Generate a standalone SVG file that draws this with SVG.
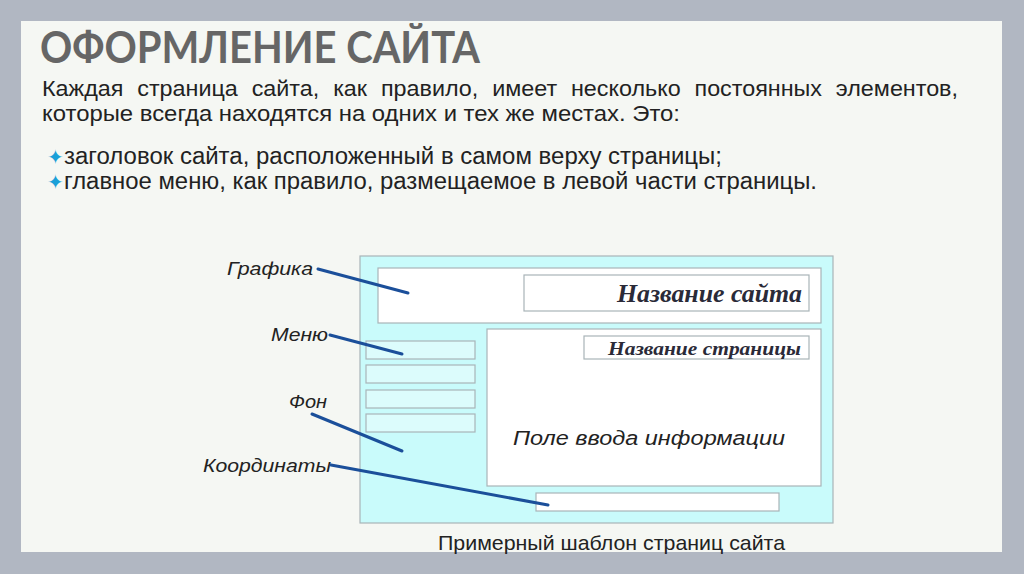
<svg xmlns="http://www.w3.org/2000/svg" width="1024" height="574" viewBox="0 0 1024 574">
<style>
.lbl{font-family:"Liberation Sans",Arial,sans-serif;font-style:italic;font-size:19px;fill:#222}
.box{stroke:#a9b4b8;stroke-width:1.2}
.menu{fill:#dcfcfc;stroke:#a9b4b8;stroke-width:1.2}
.ser{font-family:"Liberation Serif","Times New Roman",serif;font-style:italic;font-weight:bold;fill:#2a2a38}
.con line{stroke:#1b4f9a;stroke-width:3;stroke-linecap:round}
.body{font-family:"Liberation Sans",Arial,sans-serif;font-size:22px;fill:#222}
.bul{font-family:"Liberation Sans",Arial,sans-serif;font-size:23px;fill:#222}
</style>
<rect width="1024" height="574" fill="#b1b7c2"/>
<rect x="21" y="21" width="981" height="531" fill="#f5f7f3"/>
<text x="40" y="63" font-family="Lato,DejaVu Sans,sans-serif" font-weight="bold" font-size="43" fill="#666" textLength="440" lengthAdjust="spacingAndGlyphs">ОФОРМЛЕНИЕ САЙТА</text>
<text class="body" x="42" y="96" word-spacing="7" textLength="916" lengthAdjust="spacingAndGlyphs">Каждая страница сайта, как правило, имеет несколько постоянных элементов,</text>
<text class="body" x="42" y="121" textLength="638" lengthAdjust="spacingAndGlyphs">которые всегда находятся на одних и тех же местах. Это:</text>
<g class="bul">
<text x="47" y="164"><tspan fill="#1aa0d8" font-size="20">✦</tspan><tspan textLength="658" lengthAdjust="spacingAndGlyphs">заголовок сайта, расположенный в самом верху страницы;</tspan></text>
<text x="47" y="189"><tspan fill="#1aa0d8" font-size="20">✦</tspan><tspan textLength="753" lengthAdjust="spacingAndGlyphs">главное меню, как правило, размещаемое в левой части страницы.</tspan></text>
</g>
<g id="page">
<rect x="360" y="256" width="473" height="267" fill="#c9fbfb" class="box"/>
</g>
<g id="header">
<rect x="378" y="268" width="443" height="55" fill="#fff" class="box"/>
</g>
<g id="sitename">
<rect x="524" y="275" width="285" height="36" fill="#fff" class="box"/>
<text class="ser" x="617" y="302" font-size="25" textLength="185" lengthAdjust="spacingAndGlyphs">Название сайта</text>
</g>
<g id="content">
<rect x="487" y="329" width="334" height="157" fill="#fff" class="box"/>
<text x="513" y="445" font-family="Liberation Sans,Arial,sans-serif" font-style="italic" font-size="20" fill="#222" textLength="272" lengthAdjust="spacingAndGlyphs">Поле ввода информации</text>
</g>
<g id="pagename">
<rect x="584" y="336" width="225" height="23" fill="#fff" class="box"/>
<text class="ser" x="608" y="355" font-size="19" textLength="193" lengthAdjust="spacingAndGlyphs">Название страницы</text>
</g>
<g id="menu">
<rect x="366" y="341" width="109" height="18" class="menu"/>
<rect x="366" y="365" width="109" height="18" class="menu"/>
<rect x="366" y="390" width="109" height="18" class="menu"/>
<rect x="366" y="414" width="109" height="18" class="menu"/>
</g>
<g id="footer">
<rect x="536" y="493" width="243" height="18" fill="#fff" class="box"/>
</g>
<g id="labels">
<text class="lbl" x="227" y="275" textLength="86" lengthAdjust="spacingAndGlyphs">Графика</text>
<text class="lbl" x="271" y="341" textLength="57" lengthAdjust="spacingAndGlyphs">Меню</text>
<text class="lbl" x="289" y="408" textLength="38" lengthAdjust="spacingAndGlyphs">Фон</text>
<text class="lbl" x="203" y="472" textLength="128" lengthAdjust="spacingAndGlyphs">Координаты</text>
</g>
<g class="con" id="connectors">
<line x1="318" y1="269" x2="408" y2="293"/>
<line x1="330" y1="335" x2="402" y2="354"/>
<line x1="312" y1="414" x2="402" y2="451"/>
<line x1="331" y1="465" x2="548" y2="505"/>
</g>
<text x="438" y="550" font-family="Liberation Sans,Arial,sans-serif" font-size="21" fill="#222" textLength="347" lengthAdjust="spacingAndGlyphs">Примерный шаблон страниц сайта</text>
</svg>
